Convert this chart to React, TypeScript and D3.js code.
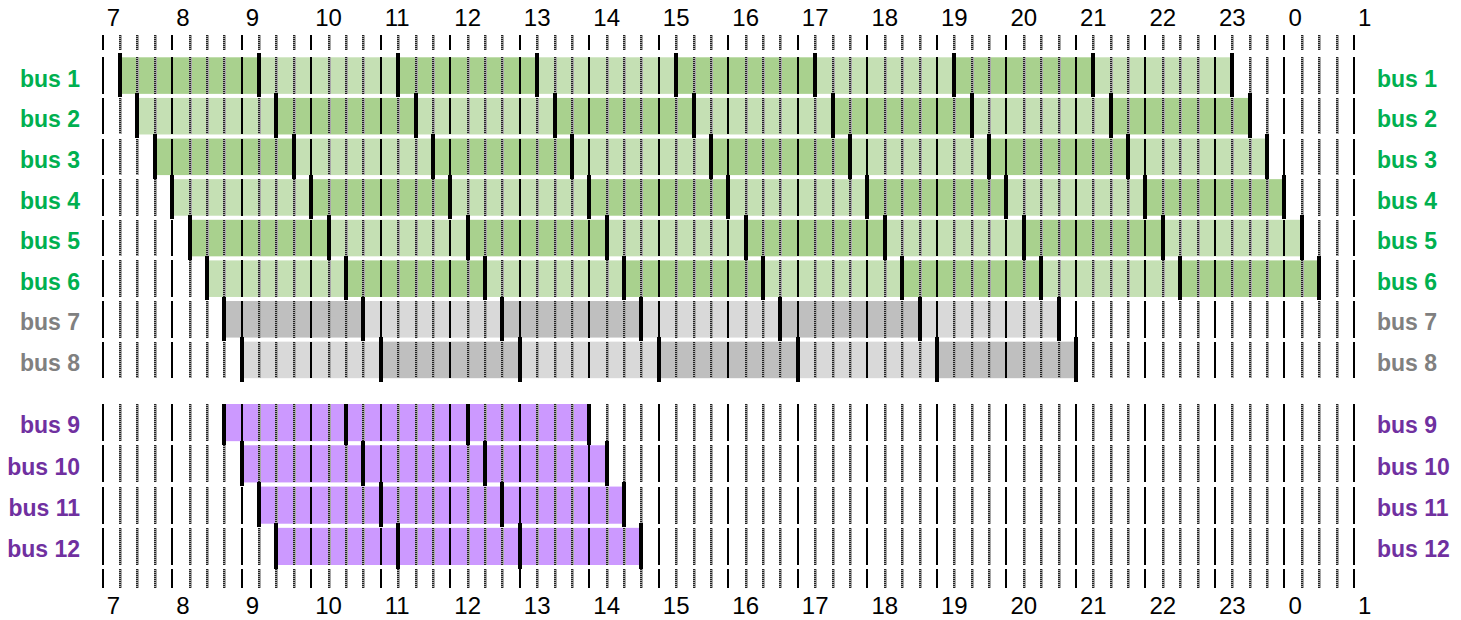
import React from "react";
import * as d3 from "d3";

const TICK_HOURS = [7, 8, 9, 10, 11, 12, 13, 14, 15, 16, 17, 18, 19, 20, 21, 22, 23, 24, 25];
const TICK_LABELS = ["7", "8", "9", "10", "11", "12", "13", "14", "15", "16", "17", "18", "19", "20", "21", "22", "23", "0", "1"];

const GROUP_A = ["bus 1", "bus 2", "bus 3", "bus 4", "bus 5", "bus 6", "bus 7", "bus 8"];
const GROUP_B = ["bus 9", "bus 10", "bus 11", "bus 12"];

// segment boundaries (hours, 24+ = after midnight)
const BUS_STOPS: Record<string, number[]> = {
  "bus 1": [7.25, 9.25, 11.25, 13.25, 15.25, 17.25, 19.25, 21.25, 23.25],
  "bus 2": [7.5, 9.5, 11.5, 13.5, 15.5, 17.5, 19.5, 21.5, 23.5],
  "bus 3": [7.75, 9.75, 11.75, 13.75, 15.75, 17.75, 19.75, 21.75, 23.75],
  "bus 4": [8, 10, 12, 14, 16, 18, 20, 22, 24],
  "bus 5": [8.25, 10.25, 12.25, 14.25, 16.25, 18.25, 20.25, 22.25, 24.25],
  "bus 6": [8.5, 10.5, 12.5, 14.5, 16.5, 18.5, 20.5, 22.5, 24.5],
  "bus 7": [8.75, 10.75, 12.75, 14.75, 16.75, 18.75, 20.75],
  "bus 8": [9, 11, 13, 15, 17, 19, 21],
  "bus 9": [8.75, 10.5, 12.25, 14],
  "bus 10": [9, 10.75, 12.5, 14.25],
  "bus 11": [9.25, 11, 12.75, 14.5],
  "bus 12": [9.5, 11.25, 13, 14.75],
};

const BUS_KIND: Record<string, string> = {
  "bus 1": "green", "bus 2": "green", "bus 3": "green", "bus 4": "green", "bus 5": "green", "bus 6": "green",
  "bus 7": "gray", "bus 8": "gray",
  "bus 9": "purple", "bus 10": "purple", "bus 11": "purple", "bus 12": "purple",
};
const BUS_FIRST_DARK: Record<string, boolean> = {
  "bus 1": true, "bus 2": false, "bus 3": true, "bus 4": false, "bus 5": true, "bus 6": false,
  "bus 7": true, "bus 8": false, "bus 9": true, "bus 10": true, "bus 11": true, "bus 12": true,
};

const FILL: Record<string, [string, string]> = {
  green: ["#a9d18e", "#c5e0b4"],
  gray: ["#bfbfbf", "#d9d9d9"],
  purple: ["#cc99ff", "#cc99ff"],
};
const LABEL_COLOR: Record<string, string> = {
  green: "#00b050",
  gray: "#808080",
  purple: "#7030a0",
};

const W = 1461;
const H = 620;
const FONT = "'Liberation Sans', Arial, sans-serif";

export default function App() {
  const x = d3.scaleLinear().domain([7, 25]).range([102.7, 1354]);
  const yA = d3.scaleBand<string>().domain(GROUP_A).range([57.3, 378.2]).paddingInner(0.1).paddingOuter(0);
  const yB = d3.scaleBand<string>().domain(GROUP_B).range([404, 565]).paddingInner(0.1).paddingOuter(0);

  const quarters = d3.range(7, 25.001, 0.25);
  const sx = (v: number) => Math.round(x(v));

  const gridStrip = (y0: number, y1: number, key: string) => (
    <g key={key}>
      {quarters.map((q) => {
        const whole = Math.abs(q - Math.round(q)) < 1e-6;
        const px = sx(q);
        return whole ? (
          <line key={q} x1={px} x2={px} y1={y0} y2={y1} stroke="#000" strokeWidth={2} shapeRendering="crispEdges" />
        ) : (
          <g key={q}>
            <line x1={px + 0.5} x2={px + 0.5} y1={y0} y2={y1} stroke="#a8a8a8" strokeWidth={3} shapeRendering="crispEdges" />
            <line x1={px} x2={px} y1={y0} y2={y1} stroke="#222" strokeWidth={2} strokeDasharray="1 1" shapeRendering="crispEdges" />
          </g>
        );
      })}
    </g>
  );

  const rows: { name: string; top: number; h: number; markTop: number }[] = [];
  GROUP_A.forEach((n) => rows.push({ name: n, top: yA(n)!, h: yA.bandwidth(), markTop: 0 }));
  GROUP_B.forEach((n) => rows.push({ name: n, top: yB(n)!, h: yB.bandwidth(), markTop: 404 }));

  return (
    <svg width={W} height={H} style={{ position: "absolute", left: 0, top: 0, background: "#fff" }} fontFamily={FONT}>
      {gridStrip(35, 50, "top")}
      {gridStrip(569, 588, "bottom")}
      {TICK_HOURS.map((h, i) => (
        <text key={"t" + i} x={x(h) + 4} y={26} fontSize={24} fill="#000">{TICK_LABELS[i]}</text>
      ))}
      {TICK_HOURS.map((h, i) => (
        <text key={"b" + i} x={x(h) + 4} y={614} fontSize={24} fill="#000">{TICK_LABELS[i]}</text>
      ))}

      {rows.map((r) => {
        const stops = BUS_STOPS[r.name];
        const kind = BUS_KIND[r.name];
        const [dark, light] = FILL[kind];
        const firstDark = BUS_FIRST_DARK[r.name];
        const segs = stops.slice(0, -1).map((s, i) => ({ s, e: stops[i + 1], dark: (i % 2 === 0) === firstDark }));
        const mTop = Math.max(r.top - 4.5, r.markTop);
        const mBot = r.top + r.h + 3.5;
        return (
          <g key={r.name}>
            {segs.map((sg, i) => (
              <rect key={i} x={x(sg.s)} y={r.top} width={x(sg.e) - x(sg.s)} height={r.h} fill={sg.dark ? dark : light} />
            ))}
            {gridStrip(r.top, r.top + r.h, "g" + r.name)}
            {stops.map((s, i) => (
              <line key={"m" + i} x1={sx(s)} x2={sx(s)} y1={mTop} y2={mBot} stroke="#000" strokeWidth={4} shapeRendering="crispEdges" />
            ))}
            <text x={80} y={r.top + 29.4} textAnchor="end" fontSize={23} fontWeight="bold" fill={LABEL_COLOR[kind]}>{r.name}</text>
            <text x={1377} y={r.top + 29.4} textAnchor="start" fontSize={23} fontWeight="bold" fill={LABEL_COLOR[kind]}>{r.name}</text>
          </g>
        );
      })}
    </svg>
  );
}
